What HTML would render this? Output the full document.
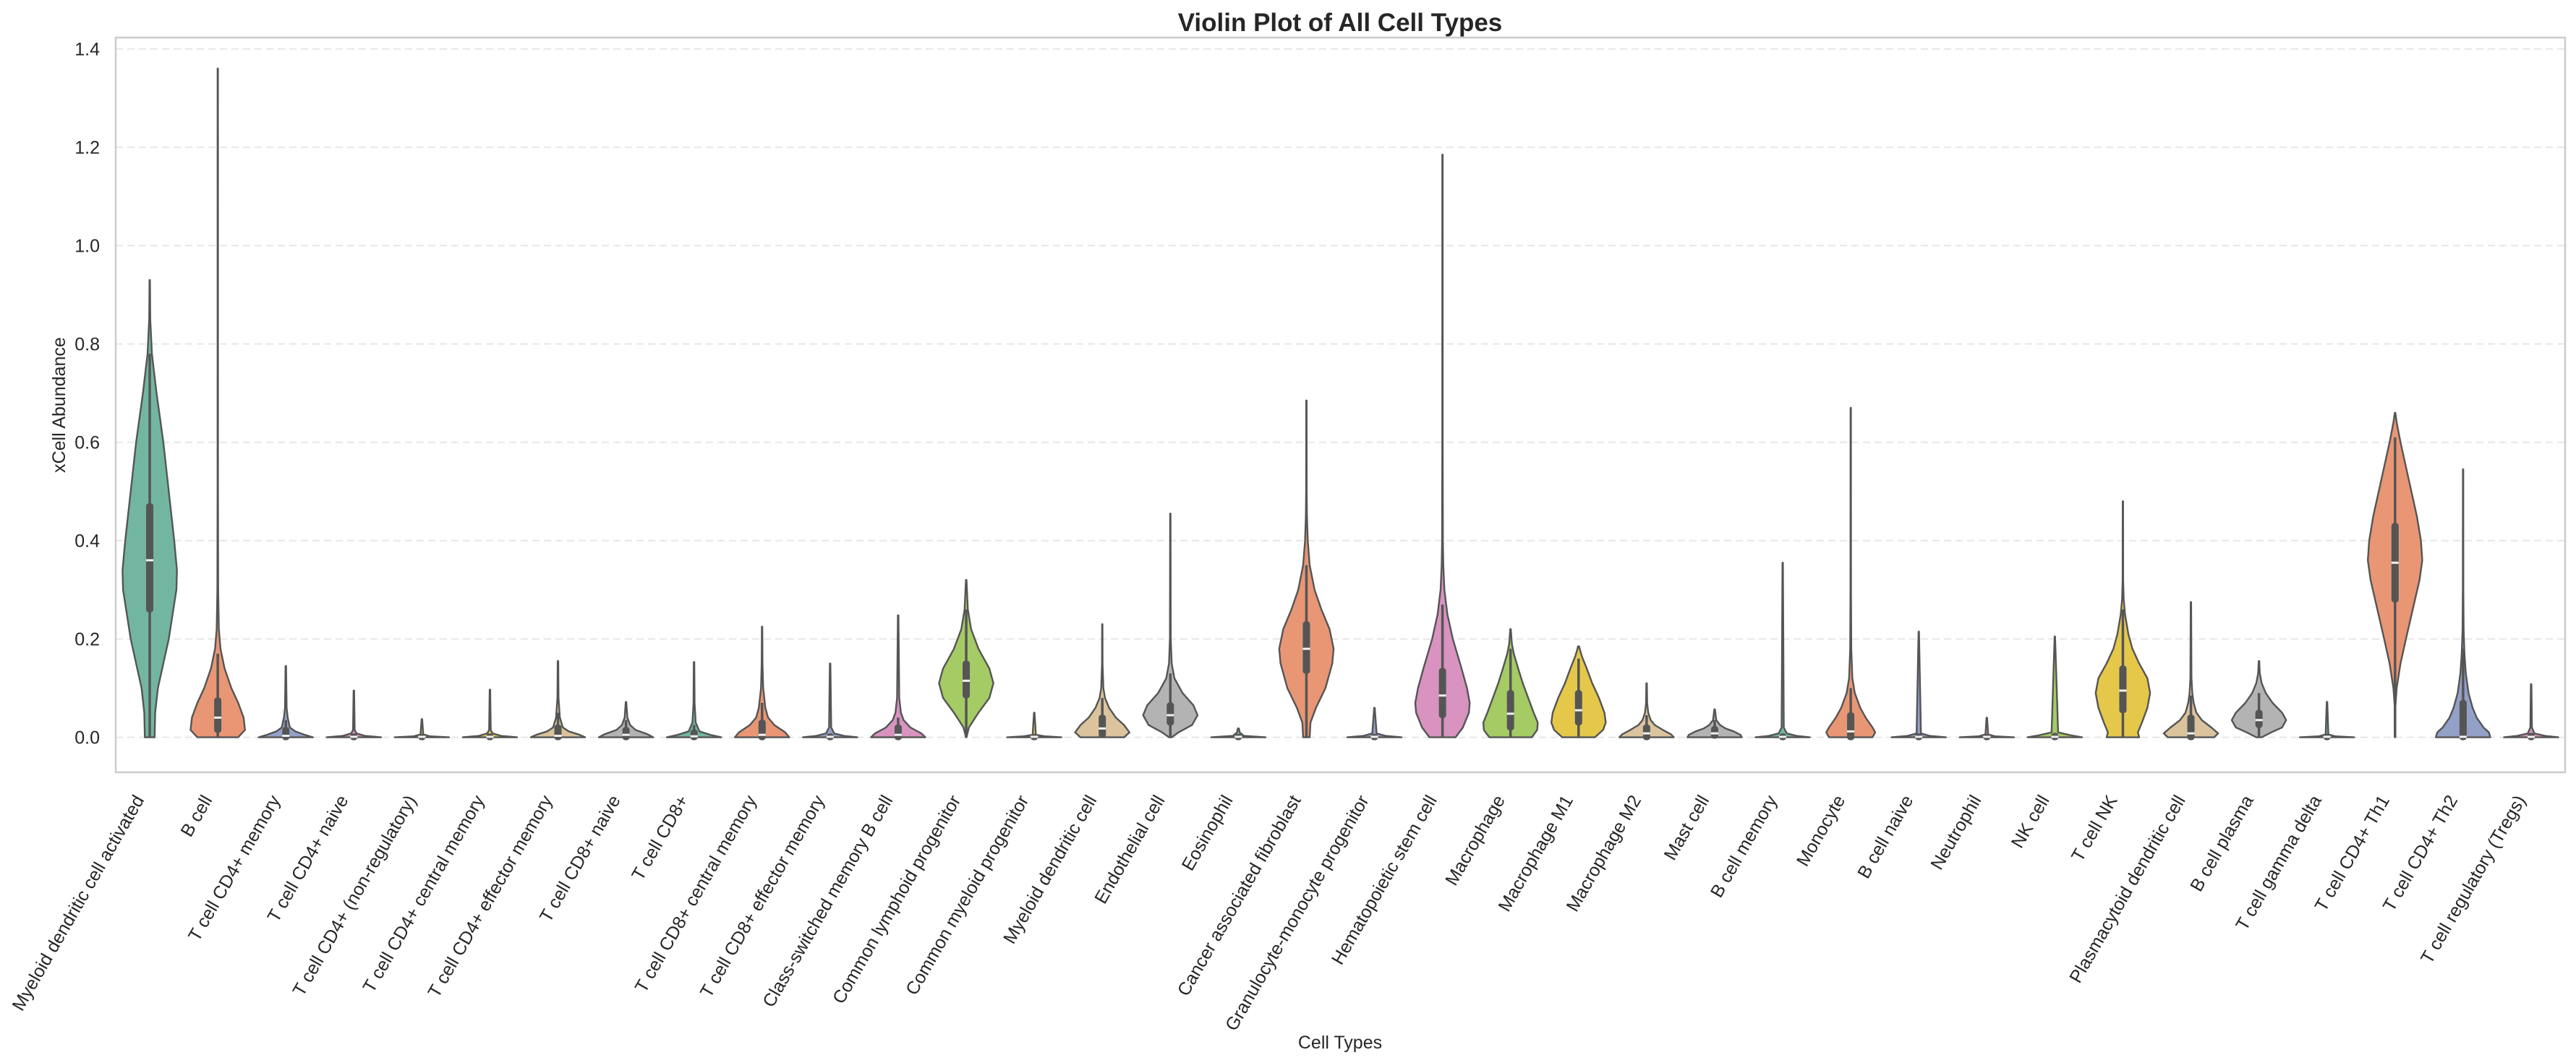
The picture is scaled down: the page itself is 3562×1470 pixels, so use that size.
<!DOCTYPE html>
<html><head><meta charset="utf-8"><style>
html,body{margin:0;padding:0;background:#fff;}
svg{display:block;font-family:"Liberation Sans",Arial,sans-serif;}
</style></head><body>
<svg id="chart" width="3562" height="1470" viewBox="0 0 3562 1470" xmlns="http://www.w3.org/2000/svg">
<rect x="0" y="0" width="3562" height="1470" fill="#fff"/>
<text x="1853" y="43" text-anchor="middle" font-size="35" font-weight="bold" fill="#262626">Violin Plot of All Cell Types</text>
<g id="grid"></g>
<g id="violins"></g>
<rect x="160" y="52" width="3387" height="1016" fill="none" stroke="#cccccc" stroke-width="2.5"/>
<g id="yticks"></g>
<g id="xticks"></g>
<text transform="translate(90,560) rotate(-90)" text-anchor="middle" font-size="25" fill="#262626">xCell Abundance</text>
<text x="1853" y="1450" text-anchor="middle" font-size="25" fill="#262626">Cell Types</text>
</svg>
<script>
const categories = ["Myeloid dendritic cell activated","B cell","T cell CD4+ memory","T cell CD4+ naive","T cell CD4+ (non-regulatory)","T cell CD4+ central memory","T cell CD4+ effector memory","T cell CD8+ naive","T cell CD8+","T cell CD8+ central memory","T cell CD8+ effector memory","Class-switched memory B cell","Common lymphoid progenitor","Common myeloid progenitor","Myeloid dendritic cell","Endothelial cell","Eosinophil","Cancer associated fibroblast","Granulocyte-monocyte progenitor","Hematopoietic stem cell","Macrophage","Macrophage M1","Macrophage M2","Mast cell","B cell memory","Monocyte","B cell naive","Neutrophil","NK cell","T cell NK","Plasmacytoid dendritic cell","B cell plasma","T cell gamma delta","T cell CD4+ Th1","T cell CD4+ Th2","T cell regulatory (Tregs)"];
const palette = ["#72b6a1","#e99675","#93a0c8","#d893c0","#a4cb64","#e5c84a","#dac39d","#b3b3b3"];
const q1Values   = [0.26,0.015,0,0,0,0,0,0,0,0,0,0,0.085,0,0.005,0.03,0,0.135,0,0.045,0.02,0.03,0,0.003,0,0,0,0,0,0.055,0,0.025,0,0.28,0,0];
const medianValues=[0.36,0.04,0.003,0.001,0.001,0.001,0.003,0.005,0.002,0.005,0.001,0.005,0.115,0.001,0.018,0.045,0.001,0.18,0.001,0.085,0.048,0.055,0.008,0.008,0.001,0.012,0.001,0.001,0.001,0.095,0.008,0.035,0.001,0.355,0.001,0.001];
const q3Values   = [0.47,0.075,0.015,0.002,0.001,0.002,0.02,0.015,0.01,0.03,0.002,0.02,0.15,0.001,0.04,0.065,0.001,0.23,0.001,0.135,0.09,0.09,0.02,0.017,0.002,0.045,0.002,0.001,0.003,0.14,0.04,0.05,0.001,0.43,0.07,0.003];
const whiskerHigh= [0.78,0.17,0.035,0.005,0.002,0.005,0.05,0.035,0.025,0.07,0.005,0.04,0.26,0.002,0.08,0.13,0.002,0.35,0.002,0.27,0.18,0.16,0.045,0.035,0.005,0.1,0.005,0.002,0.007,0.26,0.085,0.09,0.002,0.61,0.18,0.007];
const maxValues  = [0.93,1.36,0.145,0.095,0.037,0.097,0.155,0.072,0.153,0.225,0.15,0.248,0.32,0.05,0.23,0.455,0.018,0.685,0.06,1.185,0.22,0.185,0.11,0.057,0.355,0.67,0.215,0.04,0.205,0.48,0.275,0.155,0.072,0.66,0.545,0.108];
const minValues  = [0,0,0,0,0,0,0,0,0,0,0,0,0,0,0,0,0,0,0,0,0,0,0,0,0,0,0,0,0,0,0,0,0,0,0,0];
// density profiles: [value, relative half-width]
const densities = [
 [[0,0.18],[0.05,0.2],[0.1,0.3],[0.2,0.7],[0.3,0.98],[0.34,1],[0.4,0.9],[0.5,0.7],[0.6,0.5],[0.7,0.25],[0.78,0.08],[0.85,0.02],[0.93,0.008]],
 [[0,0.75],[0.015,1],[0.04,0.95],[0.07,0.75],[0.1,0.5],[0.14,0.25],[0.18,0.1],[0.22,0.04],[0.3,0.015],[0.5,0.008],[1.36,0.006]],
 [[0,1],[0.005,0.7],[0.012,0.35],[0.02,0.15],[0.04,0.07],[0.06,0.03],[0.145,0.01]],
 [[0,1],[0.003,0.4],[0.008,0.1],[0.015,0.03],[0.095,0.01]],
 [[0,1],[0.002,0.3],[0.006,0.05],[0.037,0.01]],
 [[0,1],[0.003,0.4],[0.008,0.1],[0.015,0.03],[0.097,0.01]],
 [[0,1],[0.005,0.8],[0.012,0.4],[0.02,0.18],[0.04,0.07],[0.08,0.02],[0.155,0.01]],
 [[0,1],[0.006,0.8],[0.015,0.35],[0.025,0.15],[0.04,0.05],[0.072,0.01]],
 [[0,1],[0.005,0.6],[0.012,0.2],[0.03,0.06],[0.07,0.02],[0.153,0.01]],
 [[0,1],[0.01,0.85],[0.025,0.45],[0.04,0.22],[0.06,0.12],[0.1,0.04],[0.15,0.015],[0.225,0.008]],
 [[0,1],[0.003,0.5],[0.008,0.15],[0.02,0.04],[0.15,0.01]],
 [[0,1],[0.008,0.85],[0.02,0.45],[0.035,0.2],[0.05,0.1],[0.08,0.04],[0.248,0.01]],
 [[0,0.01],[0.02,0.1],[0.05,0.45],[0.08,0.85],[0.11,1],[0.14,0.85],[0.18,0.45],[0.22,0.18],[0.26,0.06],[0.32,0.01]],
 [[0,1],[0.002,0.4],[0.005,0.06],[0.05,0.01]],
 [[0,0.8],[0.01,1],[0.025,0.8],[0.04,0.5],[0.06,0.25],[0.08,0.1],[0.1,0.04],[0.15,0.01],[0.23,0.007]],
 [[0,0.05],[0.01,0.3],[0.025,0.8],[0.045,1],[0.065,0.85],[0.09,0.45],[0.12,0.15],[0.15,0.05],[0.2,0.015],[0.455,0.007]],
 [[0,1],[0.003,0.2],[0.01,0.05],[0.018,0.02]],
 [[0,0.12],[0.03,0.15],[0.06,0.35],[0.1,0.7],[0.15,0.95],[0.18,1],[0.22,0.85],[0.26,0.55],[0.3,0.3],[0.35,0.12],[0.4,0.05],[0.45,0.02],[0.5,0.01],[0.685,0.007]],
 [[0,1],[0.003,0.4],[0.008,0.08],[0.06,0.01]],
 [[0,0.48],[0.02,0.75],[0.05,0.97],[0.07,1],[0.1,0.9],[0.14,0.7],[0.2,0.38],[0.25,0.18],[0.3,0.07],[0.35,0.03],[0.4,0.015],[0.6,0.008],[1.185,0.006]],
 [[0,0.78],[0.015,0.98],[0.03,1],[0.05,0.85],[0.08,0.65],[0.11,0.45],[0.14,0.28],[0.17,0.12],[0.19,0.05],[0.22,0.01]],
 [[0,0.6],[0.015,0.9],[0.03,1],[0.05,0.95],[0.08,0.75],[0.11,0.5],[0.14,0.3],[0.165,0.12],[0.18,0.04],[0.185,0.02]],
 [[0,1],[0.006,0.9],[0.015,0.6],[0.025,0.3],[0.035,0.15],[0.05,0.06],[0.07,0.02],[0.11,0.01]],
 [[0,1],[0.005,0.95],[0.012,0.7],[0.018,0.4],[0.025,0.2],[0.035,0.06],[0.057,0.01]],
 [[0,1],[0.003,0.5],[0.008,0.15],[0.02,0.04],[0.355,0.008]],
 [[0,0.8],[0.01,0.9],[0.02,0.8],[0.04,0.55],[0.06,0.35],[0.09,0.15],[0.12,0.06],[0.18,0.02],[0.3,0.01],[0.67,0.007]],
 [[0,1],[0.003,0.4],[0.008,0.08],[0.215,0.008]],
 [[0,1],[0.002,0.3],[0.006,0.05],[0.04,0.01]],
 [[0,1],[0.004,0.6],[0.01,0.12],[0.205,0.008]],
 [[0,0.6],[0.01,0.55],[0.03,0.7],[0.06,0.9],[0.09,1],[0.12,0.9],[0.15,0.6],[0.18,0.35],[0.21,0.2],[0.25,0.08],[0.28,0.03],[0.32,0.01],[0.48,0.006]],
 [[0,0.85],[0.008,1],[0.02,0.75],[0.035,0.4],[0.05,0.2],[0.07,0.1],[0.09,0.05],[0.12,0.02],[0.275,0.008]],
 [[0,0.1],[0.01,0.45],[0.02,0.85],[0.035,1],[0.05,0.85],[0.07,0.5],[0.09,0.25],[0.11,0.1],[0.13,0.03],[0.155,0.01]],
 [[0,1],[0.002,0.3],[0.006,0.05],[0.072,0.01]],
 [[0.0,0.004],[0.06,0.01],[0.1,0.06],[0.15,0.2],[0.2,0.4],[0.26,0.65],[0.32,0.9],[0.36,1],[0.4,0.95],[0.45,0.8],[0.5,0.6],[0.55,0.4],[0.6,0.2],[0.64,0.06],[0.66,0.01]],
 [[0,1],[0.01,0.95],[0.02,0.75],[0.04,0.5],[0.06,0.35],[0.09,0.2],[0.13,0.1],[0.17,0.05],[0.22,0.02],[0.3,0.01],[0.545,0.006]],
 [[0,1],[0.003,0.5],[0.008,0.12],[0.02,0.03],[0.108,0.01]]
];
const yTickValues = [0.0,0.2,0.4,0.6,0.8,1.0,1.2,1.4];
const yTickLabels = ["0.0","0.2","0.4","0.6","0.8","1.0","1.2","1.4"];

const NS = "http://www.w3.org/2000/svg";
const plotL = 160, plotR = 3547, y0px = 1019.6, unitPx = 680;
const band = (plotR - plotL) / categories.length;
const maxHalf = band * 0.4;
function xScale(i){ return plotL + band * (i + 0.5); }
function yScale(v){ return y0px - v * unitPx; }
function mk(tag, attrs, parent){
  const e = document.createElementNS(NS, tag);
  for (const k in attrs) e.setAttribute(k, attrs[k]);
  parent.appendChild(e); return e;
}
const grid = document.getElementById('grid');
const yt = document.getElementById('yticks');
yTickValues.forEach((v, i) => {
  const ln = mk('line', {x1: plotL, x2: plotR, y1: yScale(v), y2: yScale(v), stroke: '#e6e6e6', 'stroke-width': 2, 'stroke-dasharray': '10 6'}, grid);
  
  
  const t = mk('text', {x: 138, y: yScale(v) + 9, 'text-anchor': 'end', 'font-size': 25, fill: '#262626'}, yt);
  t.textContent = yTickLabels[i];
  
  
});
const vg = document.getElementById('violins');
const xt = document.getElementById('xticks');
categories.forEach((name, i) => {
  const cx = xScale(i);
  const prof = densities[i];
  const g = mk('g', {}, vg);
  
  
  let right = [], left = [];
  prof.forEach(p => {
    const w = Math.max(p[1] * maxHalf, 0.25);
    right.push((cx + w).toFixed(2) + ',' + yScale(p[0]).toFixed(2));
    left.unshift((cx - w).toFixed(2) + ',' + yScale(p[0]).toFixed(2));
  });
  const d = 'M' + right.join(' L') + ' L' + left.join(' L') + ' Z';
  const body = mk('path', {d: d, fill: palette[i % 8], stroke: '#555555', 'stroke-width': 2.4, 'stroke-linejoin': 'round'}, g);
  
  
  const wh = mk('line', {x1: cx, x2: cx, y1: yScale(minValues[i]), y2: yScale(whiskerHigh[i]), stroke: '#555555', 'stroke-width': 3.5}, g);
  
  
  const boxTop = yScale(q3Values[i]), boxBot = yScale(q1Values[i]);
  const bx = mk('rect', {x: cx - 5, y: boxTop - 4, width: 10, height: Math.max(boxBot - boxTop, 0) + 8, rx: 4, fill: '#555555'}, g);
  
  
  const md = mk('rect', {x: cx - 5, y: yScale(medianValues[i]) - 1.5, width: 10, height: 3, fill: '#f2f2f2'}, g);
  
  
  const t = mk('text', {transform: 'translate(' + (cx - 7).toFixed(1) + ',1106) rotate(-60)', 'text-anchor': 'end', 'font-size': 25, fill: '#262626'}, xt);
  t.textContent = name;
  
  
});
</script>
</body></html>
